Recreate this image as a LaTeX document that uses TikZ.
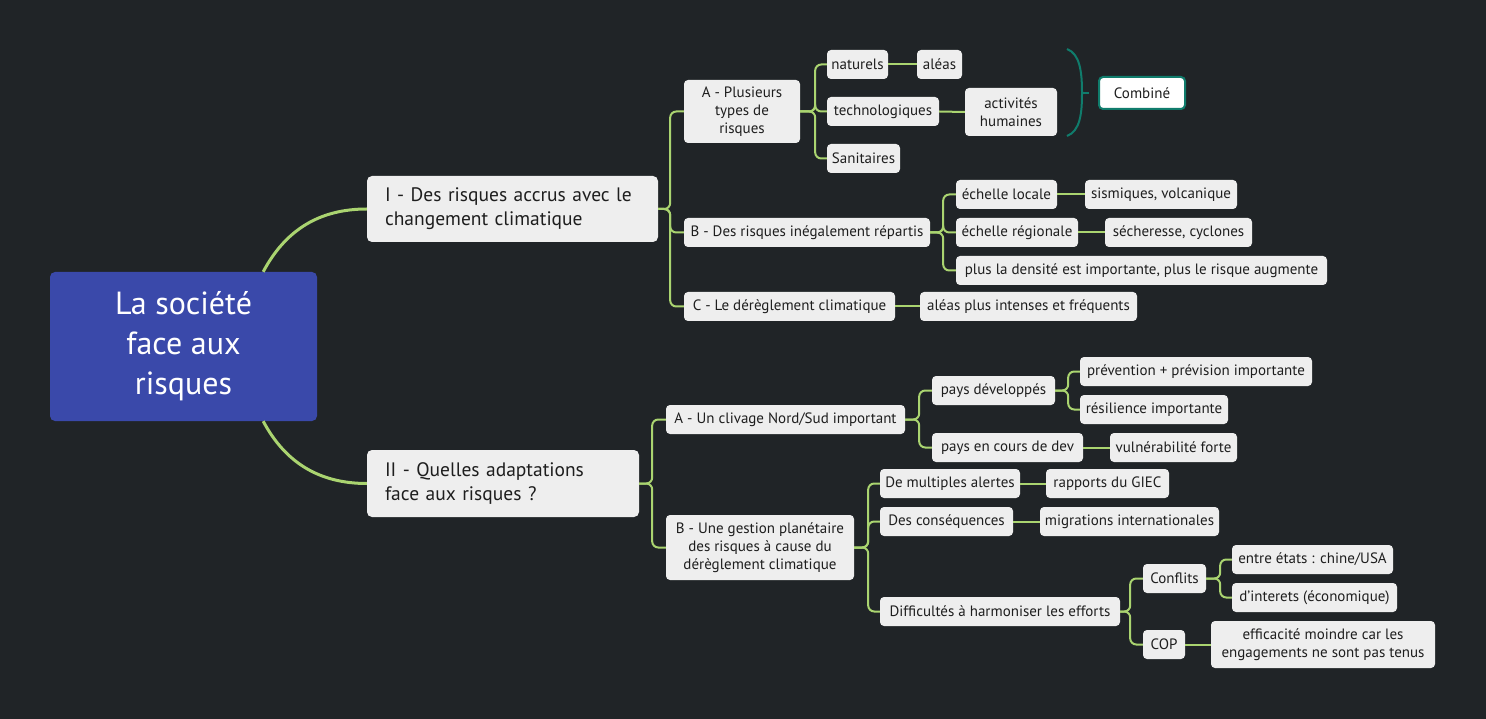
\documentclass[tikz,border=0pt]{standalone}
\usepackage{fontspec}
\setmainfont{PT Sans}
\usepackage{tikz}

\definecolor{bgdark}{RGB}{32,36,39}
\definecolor{rootblue}{RGB}{58,73,170}
\definecolor{boxgrey}{RGB}{238,238,238}
\definecolor{ink}{RGB}{30,30,30}
\definecolor{leafgreen}{RGB}{170,212,112}
\definecolor{summteal}{RGB}{16,124,108}

\tikzset{
    rootbox/.style={fill=rootblue, text=white, rounded corners=5pt, align=center,
        font=\fontsize{32}{40}\selectfont},
    topicbox/.style={fill=boxgrey, text=ink, rounded corners=5pt, align=left,
        inner xsep=18pt, font=\fontsize{19.5}{24}\selectfont},
    subbox/.style={fill=boxgrey, text=ink, rounded corners=4pt, align=center,
        inner xsep=3pt, inner ysep=2pt, minimum height=29pt, font=\fontsize{15}{18}\selectfont},
    branch/.style={leafgreen, line width=2pt, rounded corners=6pt},
    mainbranch/.style={leafgreen, line width=3pt}
}

\begin{document}
\begin{tikzpicture}[x=1pt, y=-1pt]
    \fill[bgdark] (0,0) rectangle (1486,719);
    \useasboundingbox (0,0) rectangle (1486,719);

    % centre and the two parts
    \node[rootbox, minimum width=267pt, minimum height=149pt] (root) at (183.5,346.5) {La société\\face aux\\risques};
    \node[topicbox, text width=255pt, minimum height=66pt] (partI) at (512.5,209) {I - Des risques accrus avec le\\changement climatique};
    \node[topicbox, text width=236pt, minimum height=67pt] (partII) at (503,483.5) {II - Quelles adaptations\\face aux risques ?};
    \draw[mainbranch] ([xshift=-54pt]root.north east) to[out=62,in=180] (partI.west);
    \draw[mainbranch] ([xshift=-54pt]root.south east) to[out=-62,in=180] (partII.west);

    % part I
    \node[subbox, minimum width=116pt, minimum height=63pt] (typesA) at (742,111.5) {A - Plusieurs\\types de\\risques};
    \node[subbox, minimum width=246pt] (inegalB) at (807,232.5) {B - Des risques inégalement répartis};
    \node[subbox, minimum width=211pt] (dereglC) at (789.5,306.5) {C - Le dérèglement climatique};
    \draw[branch] (partI.east) -- +(12,0) |- (typesA.west);
    \draw[branch] (partI.east) -- +(12,0) |- (inegalB.west);
    \draw[branch] (partI.east) -- +(12,0) |- (dereglC.west);

    \node[subbox, minimum width=61pt] (naturels) at (857.5,64.5) {naturels};
    \node[subbox, minimum width=112pt] (techno) at (883,111.5) {technologiques};
    \node[subbox, minimum width=73pt] (sanit) at (863.5,158.5) {Sanitaires};
    \node[subbox, minimum width=45pt] (aleas) at (939.5,64.5) {aléas};
    \node[subbox, minimum width=92pt, minimum height=48pt] (humaines) at (1011,112) {activités\\humaines};
    \draw[branch] (typesA.east) -- +(15,0) |- (naturels.west);
    \draw[branch] (typesA.east) -- +(15,0) |- (techno.west);
    \draw[branch] (typesA.east) -- +(15,0) |- (sanit.west);
    \draw[branch] (naturels.east) -- (aleas.west);
    \draw[branch] (techno.east) -- (humaines.west);

    % summary brace
    \draw[summteal, line width=2pt] (1067,49) .. controls (1080,54) and (1082,72) .. (1082,93)
        .. controls (1082,114) and (1080,131) .. (1067,136);
    \draw[summteal, line width=2pt] (1082,93) -- (1089,93);
    \node[subbox, fill=white, draw=summteal, line width=2pt, minimum width=86pt, minimum height=32pt] (combine) at (1142,93) {Combiné};

    \node[subbox, minimum width=101pt] (locale) at (1006.5,194.5) {échelle locale};
    \node[subbox, minimum width=122pt] (regionale) at (1017,232.5) {échelle régionale};
    \node[subbox, minimum width=371pt] (densite) at (1141.5,270.5) {plus la densité est importante, plus le risque augmente};
    \node[subbox, minimum width=152pt] (sismiques) at (1161,194.5) {sismiques, volcanique};
    \node[subbox, minimum width=147pt] (secheresse) at (1178.5,232.5) {sécheresse, cyclones};
    \draw[branch] (inegalB.east) -- +(13,0) |- (locale.west);
    \draw[branch] (inegalB.east) -- +(13,0) |- (regionale.west);
    \draw[branch] (inegalB.east) -- +(13,0) |- (densite.west);
    \draw[branch] (locale.east) -- (sismiques.west);
    \draw[branch] (regionale.east) -- (secheresse.west);

    \node[subbox, minimum width=217pt] (intenses) at (1028.5,306.5) {aléas plus intenses et fréquents};
    \draw[branch] (dereglC.east) -- (intenses.west);

    % part II
    \node[subbox, minimum width=239pt] (clivageA) at (785.5,419.5) {A - Un clivage Nord/Sud important};
    \node[subbox, minimum width=188pt, minimum height=65pt] (gestionB) at (760,547.5) {B - Une gestion planétaire\\des risques à cause du\\dérèglement climatique};
    \draw[branch] (partII.east) -- +(13,0) |- (clivageA.west);
    \draw[branch] (partII.east) -- +(13,0) |- (gestionB.west);

    \node[subbox, minimum width=123pt] (develop) at (993.5,390.5) {pays développés};
    \node[subbox, minimum width=151pt] (encours) at (1007.5,447.5) {pays en cours de dev};
    \node[subbox, minimum width=232pt] (prevention) at (1196,371.5) {prévention + prévision importante};
    \node[subbox, minimum width=148pt] (resilience) at (1154,409.5) {résilience importante};
    \node[subbox, minimum width=127pt] (vulner) at (1173.5,447.5) {vulnérabilité forte};
    \draw[branch] (clivageA.east) -- +(14,0) |- (develop.west);
    \draw[branch] (clivageA.east) -- +(14,0) |- (encours.west);
    \draw[branch] (develop.east) -- +(13,0) |- (prevention.west);
    \draw[branch] (develop.east) -- +(13,0) |- (resilience.west);
    \draw[branch] (encours.east) -- (vulner.west);

    \node[subbox, minimum width=140pt] (alertes) at (950,483.5) {De multiples alertes};
    \node[subbox, minimum width=133pt] (consequ) at (946.5,521.5) {Des conséquences};
    \node[subbox, minimum width=240pt] (difficul) at (1000,611.5) {Difficultés à harmoniser les efforts};
    \node[subbox, minimum width=123pt] (giec) at (1107.5,483.5) {rapports du GIEC};
    \node[subbox, minimum width=179pt] (migration) at (1129.5,521.5) {migrations internationales};
    \draw[branch] (gestionB.east) -- +(14,0) |- (alertes.west);
    \draw[branch] (gestionB.east) -- +(14,0) |- (consequ.west);
    \draw[branch] (gestionB.east) -- +(14,0) |- (difficul.west);
    \draw[branch] (alertes.east) -- (giec.west);
    \draw[branch] (consequ.east) -- (migration.west);

    \node[subbox, minimum width=63pt] (conflits) at (1174.5,578.5) {Conflits};
    \node[subbox, minimum width=42pt] (cop) at (1164,644.5) {COP};
    \node[subbox, minimum width=161pt] (etats) at (1312.5,559.5) {entre états : chine/USA};
    \node[subbox, minimum width=165pt] (interets) at (1314.5,597.5) {d'interets (économique)};
    \node[subbox, minimum width=224pt, minimum height=47pt] (moindre) at (1323,644.5) {efficacité moindre car les\\engagements ne sont pas tenus};
    \draw[branch] (difficul.east) -- +(10,0) |- (conflits.west);
    \draw[branch] (difficul.east) -- +(10,0) |- (cop.west);
    \draw[branch] (conflits.east) -- +(14,0) |- (etats.west);
    \draw[branch] (conflits.east) -- +(14,0) |- (interets.west);
    \draw[branch] (cop.east) -- (moindre.west);
\end{tikzpicture}
\end{document}
